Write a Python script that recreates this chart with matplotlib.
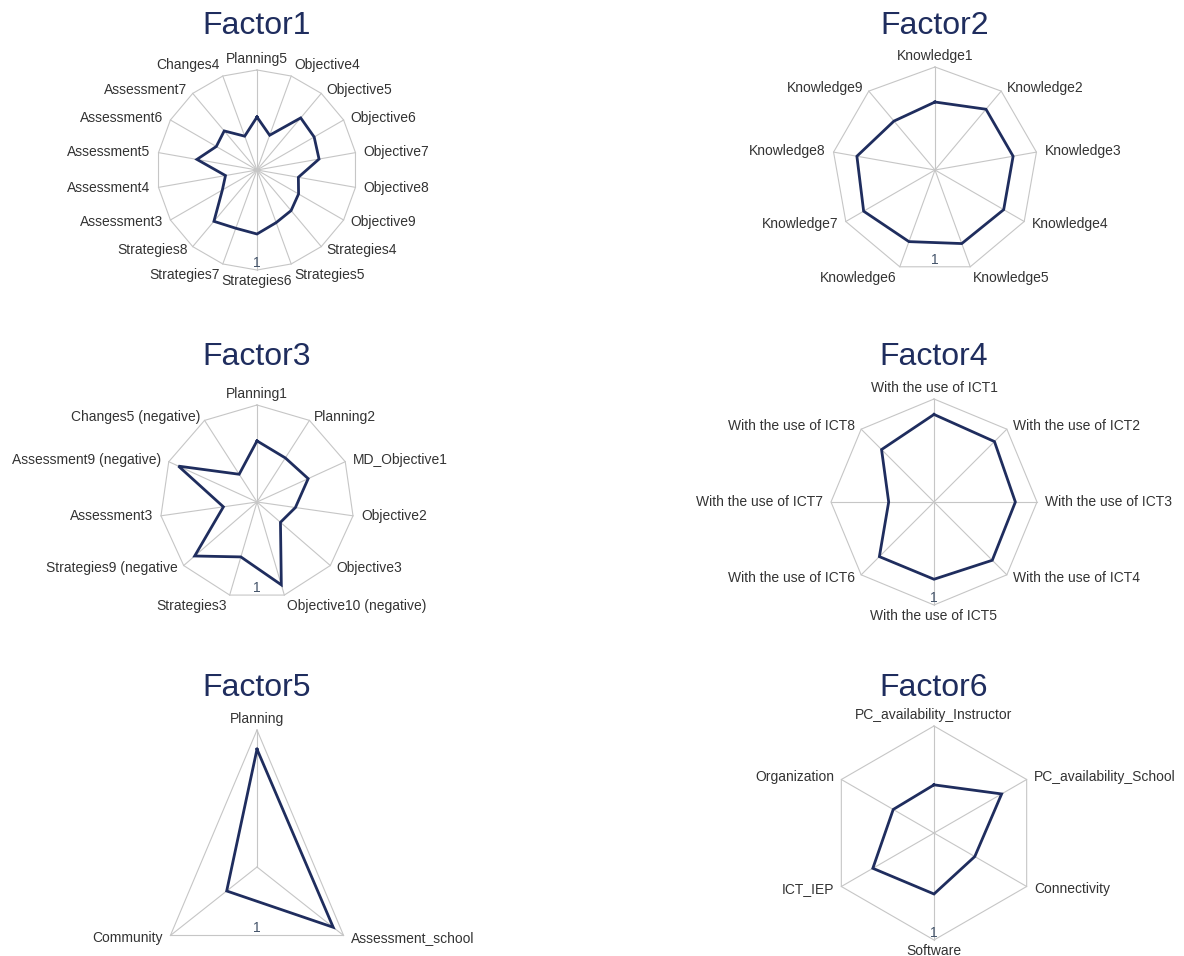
import numpy as np
import matplotlib
matplotlib.use('Agg')
import matplotlib.pyplot as plt

plt.rcParams['font.family'] = ['Liberation Sans', 'DejaVu Sans']

# 各因子的指标和数值（从图上读取, 外圈 = 1）
f1_labels = ['Planning5', 'Objective4', 'Objective5', 'Objective6', 'Objective7',
             'Objective8', 'Objective9', 'Strategies4', 'Strategies5', 'Strategies6',
             'Strategies7', 'Strategies8', 'Assessment3', 'Assessment4', 'Assessment5',
             'Assessment6', 'Assessment7', 'Changes4']
f1_values = [0.53, 0.37, 0.68, 0.66, 0.63, 0.42, 0.48, 0.53, 0.56, 0.64,
             0.62, 0.67, 0.40, 0.32, 0.61, 0.47, 0.51, 0.36]

f2_labels = ['Knowledge1', 'Knowledge2', 'Knowledge3', 'Knowledge4', 'Knowledge5',
             'Knowledge6', 'Knowledge7', 'Knowledge8', 'Knowledge9']
f2_values = [0.66, 0.77, 0.77, 0.77, 0.76, 0.74, 0.80, 0.77, 0.62]

f3_labels = ['Planning1', 'Planning2', 'MD_Objective1', 'Objective2', 'Objective3',
             'Objective10 (negative)', 'Strategies3', 'Strategies9 (negative',
             'Assessment3', 'Assessment9 (negative)', 'Changes5 (negative)']
f3_values = [0.63, 0.54, 0.58, 0.40, 0.32, 0.89, 0.59, 0.85, 0.35, 0.89, 0.34]

f4_labels = ['With the use of ICT%d' % i for i in range(1, 9)]
f4_values = [0.85, 0.83, 0.79, 0.80, 0.75, 0.75, 0.44, 0.72]

f5_labels = ['Planning', 'Assessment_school', 'Community']
f5_values = [0.86, 0.88, 0.35]

f6_labels = ['PC_availability_Instructor', 'PC_availability_School', 'Connectivity',
             'Software', 'ICT_IEP', 'Organization']
f6_values = [0.45, 0.73, 0.44, 0.57, 0.66, 0.44]

titles = ['Factor1', 'Factor2', 'Factor3', 'Factor4', 'Factor5', 'Factor6']
all_labels = [f1_labels, f2_labels, f3_labels, f4_labels, f5_labels, f6_labels]
all_values = [f1_values, f2_values, f3_values, f4_values, f5_values, f6_values]

# 版面: 中心(像素), 半径(像素, x / y), 标题y
W, H = 1184, 956
layout = [
    (257, 170, 100, 100, 26),
    (935, 170, 103, 103, 26),
    (257, 502, 97, 97, 357),
    (934, 502, 103, 103, 357),
    (257, 867, 100, 137, 688),
    (934, 833, 107, 107, 688),
]

line_color = '#1f2d5e'
grid_color = '#c6c6c6'
text_color = '#333333'

fig = plt.figure(figsize=(W / 100, H / 100), dpi=100)

L = 1.5
for title, labels, values, (cx, cy, rx, ry, ty) in zip(titles, all_labels, all_values, layout):
    ax = fig.add_axes([(cx - L * rx) / W, 1 - (cy + L * ry) / H,
                       2 * L * rx / W, 2 * L * ry / H])
    ax.set_xlim(-L, L)
    ax.set_ylim(-L, L)
    ax.axis('off')

    n = len(labels)
    ang = 2 * np.pi * np.arange(n) / n
    sx, sy = np.sin(ang), np.cos(ang)

    # 网格: 外圈 + 辐射线
    ax.plot(np.append(sx, sx[0]), np.append(sy, sy[0]), color=grid_color, lw=0.8, zorder=1)
    for x, y in zip(sx, sy):
        ax.plot([0, x], [0, y], color=grid_color, lw=0.8, zorder=1)

    v = np.array(values)
    ax.plot(np.append(v * sx, v[0] * sx[0]), np.append(v * sy, v[0] * sy[0]),
            color=line_color, lw=2.0, zorder=3, solid_joinstyle='miter')

    for lab, x, y in zip(labels, sx, sy):
        ha = 'center' if abs(x) < 0.1 else ('left' if x > 0 else 'right')
        va = 'bottom' if y > 0.9 else ('top' if y < -0.9 else 'center')
        ax.annotate(lab, xy=(x, y), xytext=(6 * x, 3 * y), textcoords='offset points',
                    ha=ha, va=va, fontsize=10, color=text_color)

    # 刻度 "1" 放在外圈正下方
    step = 2 * np.pi / n
    rb = np.cos(np.pi / n) / np.cos((np.pi % step) - np.pi / n)
    ax.text(0, -rb, '1', ha='center', va='bottom', fontsize=10, color='#44546a')

    fig.text(cx / W, 1 - ty / H, title, ha='center', va='center',
             fontsize=23, color=line_color)

fig.savefig('out.png', dpi=100, facecolor='white')
